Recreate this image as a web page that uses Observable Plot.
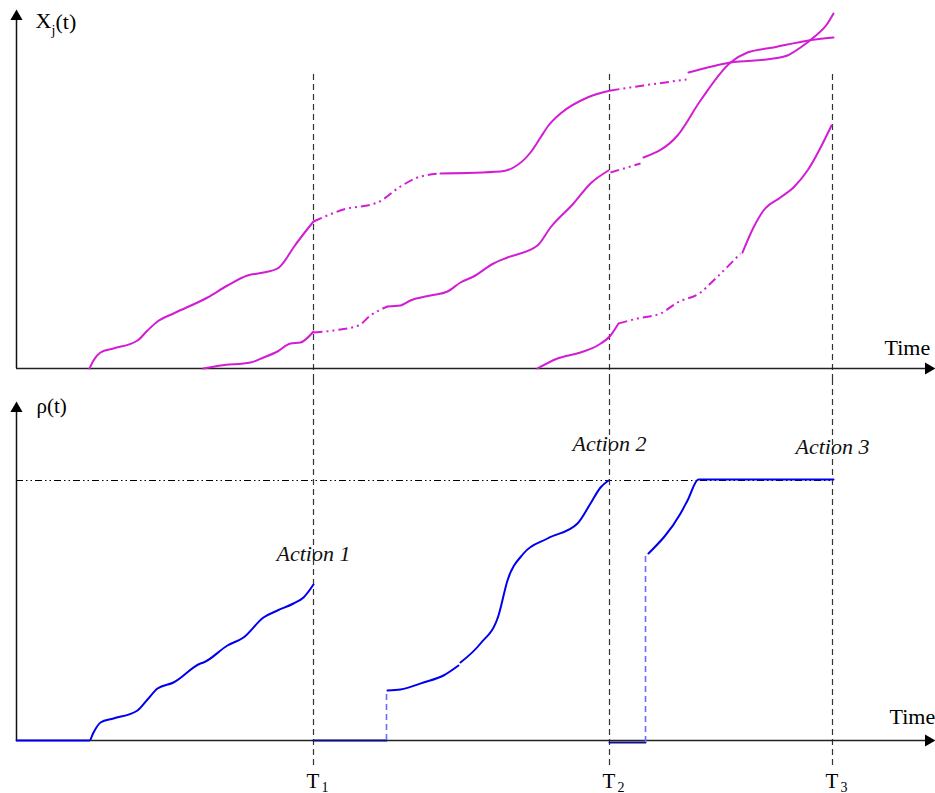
<!DOCTYPE html>
<html>
<head>
<meta charset="utf-8">
<script src="https://cdn.jsdelivr.net/npm/d3@7"></script>
<script src="https://cdn.jsdelivr.net/npm/@observablehq/plot@0.6"></script>
<style>
  html, body { margin: 0; padding: 0; background: #fff; overflow: hidden; }
  #chart svg { display: block; }
</style>
</head>
<body>
<div id="chart"></div>
<script>
// ---------- data (time, value) ----------
// Top panel: three trajectories X_j(t); solid = observed, dash-dot = between actions
const A1 = [[89,0],[93,8],[100,16],[113,20],[137,28],[147,38],[157,47],[173,55],[207,71],[227,83],[247,93],[263,96],[277,100],[283,106],[293,121],[313,147]];
const A2 = [[313,147],[343,159],[377,166],[400,182],[417,191],[440,195]];
const A3 = [[440,195],[500,197],[513,201],[530,216],[540,231],[548,243],[560,255],[587,271],[610,278]];
const A4 = [[610,278],[643,283],[686,289]];
const A5 = [[688,296],[730,306],[773,310],[787,313],[800,321],[813,331],[827,345],[833,355]];

const B1 = [[203,0],[220,3],[250,6],[263,11],[277,17],[290,25],[300,26],[313,37]];
const B2 = [[313,36],[333,38],[358,43],[370,53],[387,62]];
const B3 = [[387,62],[400,63],[410,68],[430,73],[447,77],[460,86],[473,92],[493,105],[507,111],[537,123],[550,141],[573,165],[590,185],[608,198]];
const B4 = [[610,196],[640,205]];
const B5 = [[643,211],[677,233],[700,268],[730,306],[747,316],[773,321],[808,328],[833,331]];

const C1 = [[537,0],[557,10],[580,16],[597,23],[610,33],[618,45]];
const C2 = [[618,45],[637,50],[660,55],[677,66],[700,76],[713,88],[740,115]];
const C3 = [[742,116],[753,141],[763,158],[780,171],[793,181],[807,198],[831,243]];

// Bottom panel: rho(t)
const R1 = [[16,0],[89,0],[93,8],[100,18],[113,22],[137,30],[147,41],[157,52],[173,58],[200,77],[203,78],[227,95],[243,103],[263,123],[277,130],[293,137],[303,143],[313,156]];
const R2 = [[387,50],[400,51],[423,58],[443,65],[458,75]];
const R3 = [[460,78],[480,97],[498,125],[507,160],[523,187],[547,202],[577,217],[590,237],[600,253],[608,260]];
const R4 = [[648,187],[680,227],[687,240],[698,261],[833,261]];
const resetFlat = [[313,0],[386,0]];
const resetFlat2 = [[609,-2],[645,-2]];
const jumpTimes = [386, 645];
const jumpFrom = [0, -2];
const jumpTo = [50, 187];

const threshold = 260;
const actionTimes = [313, 609, 832];
const actionLabels = ["Action 1", "Action 2", "Action 3"];
const actionLabelY = [180, 290, 287];
const tickNames = ["T", "T", "T"];
const tickSubs = ["1", "2", "3"];

const tOrigin = 16, tArrow = 928;

// ---------- helpers ----------
const toRows = segs => segs.flatMap((s, i) => s.map(([t, v]) => ({t, v, seg: i})));
const magenta = "#d21ed2";
const blue = "#0000ee";
const serif = "Liberation Serif, Times New Roman, serif";
const mdash = "9,4,2,4,2,4";

// ---------- top panel ----------
const topPanel = Plot.plot({
  width: 935, height: 380, margin: 0,
  x: {domain: [0, 935], axis: null},
  y: {domain: [-12, 368], axis: null},
  style: {background: "#fff", fontFamily: serif},
  marks: [
    Plot.ruleX(actionTimes, {y1: -12, y2: 298, stroke: "#333", strokeWidth: 1.2, strokeDasharray: "6,4"}),
    Plot.ruleY([0], {x1: tOrigin, x2: tArrow, stroke: "#222", strokeWidth: 1.5}),
    Plot.ruleX([tOrigin], {y1: 0, y2: 350, stroke: "#111", strokeWidth: 1.5}),
    Plot.dot([{t: tOrigin, v: 352}], {x: "t", y: "v", symbol: "triangle", r: 4.5, fill: "#000", stroke: "none"}),
    Plot.dot([{t: tArrow, v: 0}], {x: "t", y: "v", symbol: "triangle", r: 4.5, rotate: 90, fill: "#000", stroke: "none"}),
    Plot.line(toRows([A1, A3, A5, B1, B3, B5, C1, C3]), {x: "t", y: "v", z: "seg", stroke: magenta, strokeWidth: 2, curve: "monotone-x"}),
    Plot.line(toRows([A2, A4, B2, B4, C2]), {x: "t", y: "v", z: "seg", stroke: magenta, strokeWidth: 2, strokeDasharray: mdash, strokeLinecap: "butt", curve: "monotone-x"}),
    Plot.text(["X"], {x: 35, y: 341, text: d => d, textAnchor: "start", lineAnchor: "bottom", fontSize: 22, fill: "#000"}),
    Plot.text(["j"], {x: 51, y: 334, text: d => d, textAnchor: "start", lineAnchor: "bottom", fontSize: 14, fill: "#000"}),
    Plot.text(["(t)"], {x: 55, y: 340, text: d => d, textAnchor: "start", lineAnchor: "bottom", fontSize: 22, fill: "#000"}),
    Plot.text(["Time"], {x: 884, y: 14, text: d => d, textAnchor: "start", lineAnchor: "bottom", fontSize: 22, fill: "#000"})
  ]
});

// ---------- bottom panel ----------
const jumps = jumpTimes.map((t, i) => ({t, y1: jumpFrom[i], y2: jumpTo[i]}));
const actions = actionTimes.map((t, i) => ({t, label: actionLabels[i], y: actionLabelY[i]}));
const ticks = actionTimes.map((t, i) => ({t, name: tickNames[i], sub: tickSubs[i]}));

const bottomPanel = Plot.plot({
  width: 935, height: 413, margin: 0,
  x: {domain: [0, 935], axis: null},
  y: {domain: [-53, 360], axis: null},
  style: {background: "#fff", fontFamily: serif},
  marks: [
    Plot.ruleY([threshold], {x1: tOrigin, x2: 832, stroke: "#000", strokeWidth: 1, strokeDasharray: "7,3,1.5,3,1.5,3"}),
    Plot.ruleX(actionTimes, {y1: -25, y2: 360, stroke: "#333", strokeWidth: 1.2, strokeDasharray: "6,4"}),
    Plot.ruleY([0], {x1: tOrigin, x2: tArrow, stroke: "#222", strokeWidth: 1.5}),
    Plot.ruleX([tOrigin], {y1: 0, y2: 330, stroke: "#111", strokeWidth: 1.5}),
    Plot.dot([{t: tOrigin, v: 332}], {x: "t", y: "v", symbol: "triangle", r: 4.5, fill: "#000", stroke: "none"}),
    Plot.dot([{t: tArrow, v: 0}], {x: "t", y: "v", symbol: "triangle", r: 4.5, rotate: 90, fill: "#000", stroke: "none"}),
    Plot.line(toRows([resetFlat, resetFlat2]), {x: "t", y: "v", z: "seg", stroke: "#10108a", strokeWidth: 2}),
    Plot.ruleX(jumps, {x: "t", y1: "y1", y2: "y2", stroke: "#6a6aff", strokeWidth: 1.6, strokeDasharray: "6,4"}),
    Plot.line(toRows([R1, R2, R3, R4]), {x: "t", y: "v", z: "seg", stroke: blue, strokeWidth: 2, curve: "monotone-x"}),
    Plot.text(["ρ(t)"], {x: 36, y: 328, text: d => d, textAnchor: "start", lineAnchor: "bottom", fontSize: 21, fill: "#000"}),
    Plot.text(["Time"], {x: 889, y: 17, text: d => d, textAnchor: "start", lineAnchor: "bottom", fontSize: 22, fill: "#000"}),
    Plot.text(actions, {x: "t", y: "y", text: "label", textAnchor: "middle", lineAnchor: "bottom", fontSize: 22, fontStyle: "italic", fill: "#111"}),
    Plot.text(ticks, {x: "t", y: -47, text: "name", dx: -7, textAnchor: "start", lineAnchor: "bottom", fontSize: 21, fill: "#000"}),
    Plot.text(ticks, {x: "t", y: -51, text: "sub", dx: 8, textAnchor: "start", lineAnchor: "bottom", fontSize: 14, fill: "#000"})
  ]
});

document.getElementById("chart").append(topPanel, bottomPanel);
</script>
</body>
</html>
